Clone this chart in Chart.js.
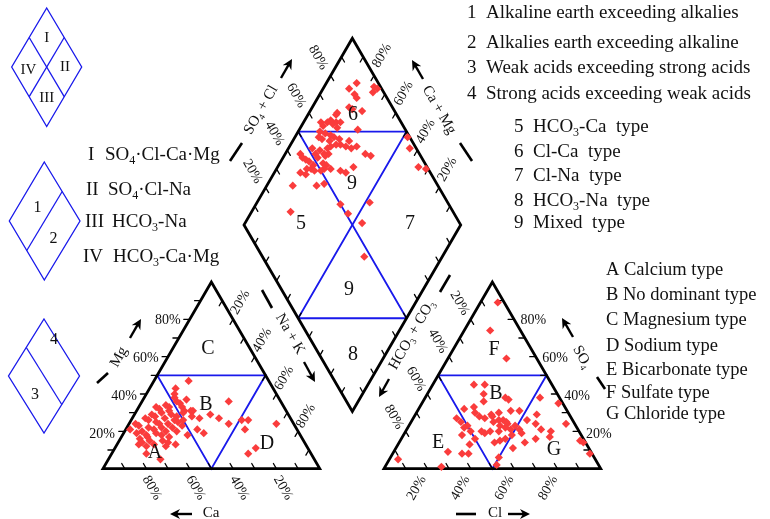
<!DOCTYPE html>
<html><head><meta charset="utf-8">
<script src="https://cdn.jsdelivr.net/npm/chart.js@4.4.1/dist/chart.umd.min.js"></script>
<style>html,body{margin:0;padding:0;background:#fff}#wrap{width:770px;height:519px;position:relative}</style>
</head><body><div id="wrap"><canvas id="c" width="770" height="519"></canvas></div>
<script>
// ---------------- DATA (percent values) ----------------
// Cation triangle samples: [Mg %, Na+K %]  (Ca % = 100 - Mg - Na+K)
const cationMgNaK = [
  [47,16],[43,12],[40,13],[36,40],[31,26],[31,22],[29,35],[27,40],[27,31],[24,46],
  [26,51],[26,54],[21,55],[24,68],[21,33],[19,37],[18,30],[11,65],[8,63],[13,27],
  [14,23],[13,10],[8,16],[5,24],[12,23],
  [30,12],[28,10],[26,8],[25,12],[24,14],[22,10],[20,8],[18,11],[22,16],[27,15],
  [29,17],[31,15],[33,14],[35,18],[34,12],[32,10],[23,5],[21,13],[19,15],[17,12],
  [16,9],[15,14],[24,18],[26,20],[28,20],[30,22],[25,22],[20,19],[18,18],[22,21],
  [36,16],[37,20],[33,20],[27,6],[29,8],[24,3],[19,6],[14,11],[13,17],[20,24],
  [23,25],[17,22],[31,25],[26,24],[28,27],[15,20],[12,14],[21,2],[33,8],[38,14]
];
// Anion triangle samples: [SO4 %, Cl %]  (HCO3+CO3 % = 100 - SO4 - Cl)
const anionSO4Cl = [
  [89,8],[74,12],[59,27],[45,19],[45,24],[40,26],[36,28],[38,37],[37,39],[38,53],
  [35,63],[32,21],[33,25],[30,27],[28,30],[29,35],[30,38],[31,43],[31,47],[29,56],
  [26,53],[24,72],[27,20],[25,23],[23,27],[25,38],[23,42],[24,45],[23,49],[21,52],
  [21,48],[20,43],[21,62],[20,67],[18,27],[20,30],[19,37],[14,44],[15,46],[16,48],
  [11,54],[14,58],[16,62],[17,68],[15,83],[14,85],[8,91],[13,33],[9,25],[8,32],
  [8,35],[6,50],[2,51],[5,4],[1,26],[20,39],[18,50],[19,54],[16,34],[22,26],
  [26,42],[24,58],[28,36],[26,40],[25,44],[22,45],[20,35],[27,33]
];
// Diamond samples: [Na+K %, SO4+Cl %]
const diamondNaKSO4Cl = [
  [14,90],[12,85],[16,86],[18,86],[23,97],[24,95],[24,85],[17,80],[19,81],[13,73],
  [13,72],[12,68],[11,66],[8,63],[10,63],[15,70],[17,72],[17,69],[27,78],[10,60],
  [13,62],[16,64],[18,65],[17,62],[11,58],[13,59],[21,67],[23,66],[21,64],[26,71],
  [31,73],[29,70],[26,68],[18,59],[19,61],[15,55],[18,56],[20,58],[19,56],[11,52],
  [14,52],[16,52],[7,45],[9,45],[11,46],[13,47],[16,46],[16,48],[20,53],[22,54],
  [12,40],[15,42],[22,52],[21,50],[25,55],[30,59],[33,61],[35,66],[37,75],[40,77],
  [23,44],[12,33],[18,25],[52,99],[56,97],[65,96],[69,99],[39,50],[45,51],[54,55],
  [52,64],[64,47],[26,48],[14,44],[14,68],[25,98],[18,47]
];
const tickPercents = [20, 40, 60, 80];
const tickLabels = ['20%', '40%', '60%', '80%'];
const minorPercents = [10, 20, 30, 40, 50, 60, 70, 80, 90];

// ---------------- GEOMETRY ----------------
const S = 219, H = S * Math.sqrt(3) / 2;
const CAT = {x: 100, y: 472};   // cation triangle, Ca apex (bottom-left)
const AN = {x: 384, y: 472};    // anion triangle, HCO3 apex (bottom-left)
const DIA = {x: 352, y: 414};   // diamond bottom vertex
function catXY(mg, na) { return {x: CAT.x + S * (na + mg / 2) / 100, y: CAT.y - H * mg / 100}; }
function anXY(so4, cl) { return {x: AN.x + S * (cl + so4 / 2) / 100, y: AN.y - H * so4 / 100}; }
function diaXY(nak, a) { const cm = 100 - nak; return {x: DIA.x + (S / 2) * (a - cm) / 100, y: DIA.y - H * (a + cm) / 100}; }

const BLACK = '#000', BLUE = 'rgb(25,25,235)', RED = 'rgb(250,60,60)';
const datasets = [];
datasets.push({
  type: 'scatter', order: 0,
  data: [].concat(
    cationMgNaK.map(d => catXY(d[0], d[1])),
    anionSO4Cl.map(d => anXY(d[0], d[1])),
    diamondNaKSO4Cl.map(d => diaXY(d[0], d[1]))),
  pointStyle: 'rectRot', pointRadius: 4.1, backgroundColor: RED, borderWidth: 0, showLine: false
});
function seg(pts, color, w, order) {
  datasets.push({type: 'scatter', order: order, data: pts, showLine: true, borderColor: color,
    borderWidth: w, pointRadius: 0, fill: false, tension: 0, borderCapStyle: 'round', borderJoinStyle: 'miter'});
}
// frames
seg([catXY(0,0), catXY(0,100), catXY(100,0), catXY(0,0), catXY(0,100)], BLACK, 2.8, 1);
seg([anXY(0,0), anXY(0,100), anXY(100,0), anXY(0,0), anXY(0,100)], BLACK, 2.8, 1);
seg([diaXY(0,0), diaXY(0,100), diaXY(100,100), diaXY(100,0), diaXY(0,0), diaXY(0,100)], BLACK, 2.8, 1);
// blue sub-fields
seg([catXY(50,0), catXY(50,50), catXY(0,50), catXY(50,0)], BLUE, 1.8, 2);
seg([anXY(50,0), anXY(50,50), anXY(0,50), anXY(50,0)], BLUE, 1.8, 2);
seg([diaXY(0,50), diaXY(50,100)], BLUE, 1.8, 2);
seg([diaXY(0,50), diaXY(100,50)], BLUE, 1.8, 2);
seg([diaXY(50,100), diaXY(50,0)], BLUE, 1.8, 2);
seg([diaXY(50,0), diaXY(100,50)], BLUE, 1.8, 2);
// ticks
const UL = [-0.5,-0.866], UR = [0.5,-0.866], DL = [-0.5,0.866], DR = [0.5,0.866], L = [-1,0], R = [1,0];
function ticks(fn, dir) {
  minorPercents.forEach(p => { const a = fn(p); seg([a, {x: a.x + dir[0]*6, y: a.y + dir[1]*6}], BLACK, 1.3, 1); });
}
ticks(p => catXY(0, p), UL);
ticks(p => catXY(p, 0), L);
ticks(p => catXY(100 - p, p), DL);
ticks(p => anXY(0, p), UL);
ticks(p => anXY(p, 100 - p), L);
ticks(p => anXY(100 - p, 0), DR);
ticks(p => diaXY(0, p), DR);
ticks(p => diaXY(100 - p, 100), DL);
ticks(p => diaXY(p, 0), UR);
ticks(p => diaXY(100, p), UL);

// ---------------- TEXT ----------------
const SERIF = '"Liberation Serif","Times New Roman","DejaVu Serif",serif';
function rich(ctx, str, x, y, size, align, rot) {
  const parts = str.split(/_(\d)/);
  ctx.save(); ctx.translate(x, y); ctx.rotate((rot || 0) * Math.PI / 180);
  ctx.textBaseline = 'middle'; ctx.textAlign = 'left'; ctx.fillStyle = '#111';
  let total = 0;
  const segs = parts.map((p, i) => { const sub = i % 2 === 1; const f = (sub ? Math.round(size * 0.62) : size) + 'px ' + SERIF;
    ctx.font = f; const w = ctx.measureText(p).width; total += w; return {p, sub, f, w}; });
  let cx = align === 'left' ? 0 : align === 'right' ? -total : -total / 2;
  segs.forEach(s => { ctx.font = s.f; ctx.fillText(s.p, cx, s.sub ? size * 0.32 : 0); cx += s.w; });
  ctx.restore();
}
function line(ctx, x1, y1, x2, y2, w, color) {
  ctx.save(); ctx.strokeStyle = color || BLACK; ctx.lineWidth = w; ctx.beginPath(); ctx.moveTo(x1, y1); ctx.lineTo(x2, y2); ctx.stroke(); ctx.restore();
}
function arrow(ctx, x1, y1, x2, y2) {
  const ang = Math.atan2(y2 - y1, x2 - x1);
  ctx.save(); ctx.strokeStyle = BLACK; ctx.fillStyle = BLACK; ctx.lineWidth = 2.4;
  ctx.beginPath(); ctx.moveTo(x1, y1); ctx.lineTo(x2 - 6 * Math.cos(ang), y2 - 6 * Math.sin(ang)); ctx.stroke();
  ctx.translate(x2, y2); ctx.rotate(ang);
  ctx.beginPath(); ctx.moveTo(0, 0); ctx.lineTo(-10, -5); ctx.lineTo(-7, 0); ctx.lineTo(-10, 5); ctx.closePath(); ctx.fill();
  ctx.restore();
}
function poly(ctx, pts, w, color) {
  ctx.save(); ctx.strokeStyle = color; ctx.lineWidth = w; ctx.beginPath();
  pts.forEach((p, i) => i ? ctx.lineTo(p[0], p[1]) : ctx.moveTo(p[0], p[1])); ctx.closePath(); ctx.stroke(); ctx.restore();
}

const legendNums = ['1  Alkaline earth exceeding alkalies', '2  Alkalies earth exceeding alkaline',
  '3  Weak acids exceeding strong acids', '4  Strong acids exceeding weak acids'];
const legendTypes = ['5  HCO_3-Ca  type', '6  Cl-Ca  type', '7  Cl-Na  type', '8  HCO_3-Na  type', '9  Mixed  type'];
const legendLetters = ['A Calcium type', 'B No dominant type', 'C Magnesium type', 'D Sodium type',
  'E Bicarbonate type', 'F Sulfate type', 'G Chloride type'];
const romanNums = ['I', 'II', 'III', 'IV'];
const romanTypes = ['SO_4·Cl-Ca·Mg', 'SO_4·Cl-Na', 'HCO_3-Na', 'HCO_3-Ca·Mg'];

const textPlugin = {
  id: 'piperText',
  afterDatasetsDraw(chart) {
    const ctx = chart.ctx;
    // right legends
    [13, 43, 68, 94].forEach((y, i) => rich(ctx, legendNums[i], 467, y, 19, 'left', 0));
    [127, 152, 176, 201, 223].forEach((y, i) => rich(ctx, legendTypes[i], 514, y, 19, 'left', 0));
    [270, 295, 320, 346, 370, 393, 414].forEach((y, i) => rich(ctx, legendLetters[i], 606, y, 18.5, 'left', 0));
    // roman legend
    const rx = [88, 86, 85, 83], tx = [105, 108, 112, 113], ry = [155, 190, 222, 257];
    ry.forEach((y, i) => { rich(ctx, romanNums[i], rx[i], y, 19, 'left', 0); rich(ctx, romanTypes[i], tx[i], y, 19, 'left', 0); });
    // small legend diamonds
    poly(ctx, [[46.7,8],[81.7,67],[46.7,126.5],[11.7,67]], 1.3, BLUE);
    line(ctx, 29.2, 37.5, 64.2, 96.7, 1.3, BLUE); line(ctx, 64.2, 37.5, 29.2, 96.7, 1.3, BLUE);
    rich(ctx, 'I', 46.7, 38.5, 15, 'center', 0); rich(ctx, 'IV', 28.5, 70, 15, 'center', 0);
    rich(ctx, 'II', 65, 67, 15, 'center', 0); rich(ctx, 'III', 46.7, 98.5, 15, 'center', 0);
    poly(ctx, [[44.3,162],[80,221],[44.3,280],[9.3,221]], 1.3, BLUE);
    line(ctx, 62.2, 191.5, 26.8, 250.5, 1.3, BLUE);
    rich(ctx, '1', 37.5, 207.5, 16, 'center', 0); rich(ctx, '2', 53.5, 238.5, 16, 'center', 0);
    poly(ctx, [[44,319],[79.5,376],[44,433],[8.5,376]], 1.3, BLUE);
    line(ctx, 26.3, 347.5, 61.8, 404.5, 1.3, BLUE);
    rich(ctx, '4', 54, 340, 16, 'center', 0); rich(ctx, '3', 35, 395, 16, 'center', 0);
    // field labels
    const fl = (t, x, y) => rich(ctx, t, x, y, 20, 'center', 0);
    fl('6', 353, 115); fl('9', 352, 184); fl('5', 301, 224); fl('7', 410, 224); fl('9', 349, 290); fl('8', 353, 355);
    fl('C', 208, 349); fl('B', 206, 405); fl('A', 155, 453); fl('D', 267, 444);
    fl('F', 494, 350); fl('B', 496, 394); fl('E', 438, 443); fl('G', 554, 450);
    // tick labels
    tickPercents.forEach((p, i) => {
      let q;
      q = catXY(p, 0); rich(ctx, tickLabels[i], q.x - 7, q.y, 14, 'right', 0);
      q = catXY(0, 100 - p); rich(ctx, tickLabels[i], q.x + 8, q.y + 16, 14, 'center', 60);
      q = catXY(100 - p, p); rich(ctx, tickLabels[i], q.x + 9, q.y - 18, 14, 'center', -60);
      q = anXY(100 - p, 0); rich(ctx, tickLabels[i], q.x - 12, q.y - 17, 14, 'center', 60);
      q = anXY(0, p); rich(ctx, tickLabels[i], q.x - 11, q.y + 16, 14, 'center', -60);
      q = anXY(p, 100 - p); rich(ctx, tickLabels[i], q.x + 5, q.y, 14, 'left', 0);
      q = diaXY(0, p); rich(ctx, tickLabels[i], q.x - 12, q.y - 15, 14, 'center', 60);
      q = diaXY(100 - p, 100); rich(ctx, tickLabels[i], q.x + 8, q.y - 17, 14, 'center', -60);
    });
    // axis titles, arrows and dashes
    rich(ctx, 'SO_4 + Cl', 261, 110, 15, 'center', -60); arrow(ctx, 281, 78, 292, 59); line(ctx, 230, 161, 242, 143, 2.6);
    rich(ctx, 'Ca + Mg', 439, 110, 15, 'center', 60); arrow(ctx, 423, 79, 412, 60); line(ctx, 460, 143, 472, 161, 2.6);
    rich(ctx, 'Na + K', 290, 334, 15, 'center', 60); arrow(ctx, 304, 362, 315, 382); line(ctx, 262, 290, 272, 308, 2.6);
    rich(ctx, 'HCO_3 + CO_3', 412, 335, 15, 'center', -60); arrow(ctx, 389, 379, 379, 397); line(ctx, 450, 275, 440, 292, 2.6);
    rich(ctx, 'Mg', 119, 357, 15, 'center', -60); arrow(ctx, 130, 338, 141, 319); line(ctx, 97, 383, 108, 373, 2.6);
    rich(ctx, 'SO_4', 582, 357, 15, 'center', 60); arrow(ctx, 573, 337, 562, 318); line(ctx, 597, 377, 605, 389, 2.6);
    rich(ctx, 'Ca', 211, 513, 15, 'center', 0); arrow(ctx, 192, 514, 170, 514);
    rich(ctx, 'Cl', 495, 513, 15, 'center', 0); line(ctx, 456, 514, 476, 514, 2.6); arrow(ctx, 508, 514, 530, 514);
  }
};

new Chart(document.getElementById('c'), {
  type: 'scatter',
  data: {datasets: datasets},
  options: {
    responsive: false, animation: false, devicePixelRatio: 1,
    layout: {padding: 0},
    plugins: {legend: {display: false}, tooltip: {enabled: false}},
    events: [],
    scales: {
      x: {type: 'linear', min: 0, max: 770, display: false},
      y: {type: 'linear', min: 0, max: 519, reverse: true, display: false}
    }
  },
  plugins: [textPlugin]
});
</script>
</body></html>
